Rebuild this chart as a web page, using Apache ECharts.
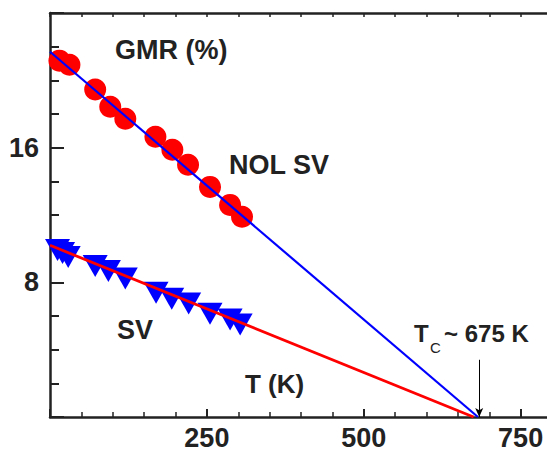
<!DOCTYPE html>
<html>
<head>
<meta charset="utf-8">
<script src="https://cdn.jsdelivr.net/npm/echarts@6/dist/echarts.min.js"></script>
<style>
html,body{margin:0;padding:0;background:#fff;overflow:hidden;}
#c{width:547px;height:452px;overflow:hidden;}
</style>
</head>
<body>
<div id="c"></div>
<script>
// Data
const tempNol = [15, 31, 72, 96, 120, 168, 195, 220, 255, 287, 306];
const gmrNol  = [21.17, 20.93, 19.45, 18.43, 17.72, 16.65, 15.88, 14.98, 13.67, 12.6, 11.9];
const tempSv  = [12, 20, 29, 72, 93, 120, 169, 194, 221, 255, 287, 303];
const gmrSv   = [9.92, 9.74, 9.51, 8.97, 8.67, 8.23, 7.38, 7.02, 6.74, 6.14, 5.79, 5.49];
const fitNolT = [0, 682];
const fitNolG = [21.7, 0];
const fitSvT  = [0, 675];
const fitSvG  = [10.2, 0];
const tcArrowT = [684, 684];
const tcArrowG = [3.4, 0];
const xTickLabels = [250, 500, 750];
const yTickLabels = [8, 16];

const zip = (a, b) => a.map((v, i) => [v, b[i]]);
const FONT = '"Liberation Sans", Arial, Helvetica, sans-serif';
const INK = '#222';

const chart = echarts.init(document.getElementById('c'), null, {renderer: 'svg'});
const axisBase = {
  type: 'value', min: 0, max: 1000, interval: 250,
  axisLine: {show: true, lineStyle: {color: INK, width: 2.5}},
  splitLine: {show: false}
};
chart.setOption({
  animation: false,
  backgroundColor: '#fff',
  grid: {left: 50, top: 13, bottom: 35, width: 627.5, containLabel: false, outerBoundsMode: 'none'},
  xAxis: [
    Object.assign({}, axisBase, {
      position: 'bottom',
      axisTick: {show: true, inside: true, length: 8, lineStyle: {color: INK, width: 2}},
      minorTick: {show: true, splitNumber: 5, length: 5, lineStyle: {color: INK, width: 1.5}},
      axisLabel: {
        margin: 7, color: INK, fontSize: 27, fontWeight: 'bold', fontFamily: FONT,
        formatter: v => xTickLabels.includes(v) ? String(v) : ''
      }
    }),
    Object.assign({}, axisBase, {
      position: 'top',
      axisTick: {show: true, inside: true, length: 4, lineStyle: {color: INK, width: 1.5}},
      minorTick: {show: true, splitNumber: 5, length: 4, lineStyle: {color: INK, width: 1.5}},
      axisLabel: {show: false}
    })
  ],
  yAxis: {
    type: 'value', min: 0, max: 24, interval: 8,
    axisLine: {show: true, lineStyle: {color: INK, width: 2.5}},
    splitLine: {show: false},
    axisTick: {show: true, inside: true, length: 14, lineStyle: {color: INK, width: 2}},
    minorTick: {show: true, splitNumber: 4, length: 9, lineStyle: {color: INK, width: 2}},
    axisLabel: {
      margin: 11, color: INK, fontSize: 27, fontWeight: 'bold', fontFamily: FONT,
      formatter: v => yTickLabels.includes(v) ? String(v) : ''
    }
  },
  series: [
    {
      type: 'scatter', name: 'NOL SV', data: zip(tempNol, gmrNol),
      symbol: 'circle', symbolSize: 22,
      itemStyle: {color: '#ff0000', opacity: 1}, z: 2
    },
    {
      type: 'scatter', name: 'SV', data: zip(tempSv, gmrSv),
      symbol: 'triangle', symbolRotate: 180, symbolSize: [25, 22],
      itemStyle: {color: '#0000ff', opacity: 1}, z: 2
    },
    {
      type: 'line', name: 'fit NOL', data: zip(fitNolT, fitNolG),
      showSymbol: false, symbol: 'none',
      lineStyle: {color: '#0000ff', width: 2.2}, z: 3
    },
    {
      type: 'line', name: 'fit SV', data: zip(fitSvT, fitSvG),
      showSymbol: false, symbol: 'none',
      lineStyle: {color: '#ff0000', width: 2.8}, z: 3
    },
    {
      type: 'line', name: 'Tc arrow', data: zip(tcArrowT, tcArrowG),
      showSymbol: false, symbol: 'none',
      lineStyle: {width: 0, opacity: 0},
      markLine: {
        silent: true, animation: false,
        symbol: ['none', 'arrow'], symbolSize: [6, 9],
        label: {show: false},
        lineStyle: {color: '#000', width: 1, type: 'solid'},
        data: [[{coord: zip(tcArrowT, tcArrowG)[0]}, {coord: zip(tcArrowT, tcArrowG)[1]}]]
      },
      z: 4
    }
  ],
  graphic: [
    {type: 'text', x: 115, y: 49.5, style: {text: 'GMR (%)', font: 'bold 27px ' + FONT, fill: INK, textAlign: 'left', textVerticalAlign: 'middle', align: 'left', verticalAlign: 'middle'}},
    {type: 'text', x: 229, y: 165, style: {text: 'NOL SV', font: 'bold 27px ' + FONT, fill: INK, textAlign: 'left', textVerticalAlign: 'middle', align: 'left', verticalAlign: 'middle'}},
    {type: 'text', x: 117, y: 329.5, style: {text: 'SV', font: 'bold 27px ' + FONT, fill: INK, textAlign: 'left', textVerticalAlign: 'middle', align: 'left', verticalAlign: 'middle'}},
    {type: 'text', x: 245, y: 384, style: {text: 'T (K)', font: 'bold 26px ' + FONT, fill: INK, textAlign: 'left', textVerticalAlign: 'middle', align: 'left', verticalAlign: 'middle'}},
    {type: 'text', x: 414, y: 333.5, style: {text: 'T', font: 'bold 24px ' + FONT, fill: INK, textAlign: 'left', textVerticalAlign: 'middle', align: 'left', verticalAlign: 'middle'}},
    {type: 'text', x: 430, y: 347, style: {text: 'C', font: '15px ' + FONT, fill: INK, textAlign: 'left', textVerticalAlign: 'middle', align: 'left', verticalAlign: 'middle'}},
    {type: 'text', x: 444, y: 333.5, style: {text: '~ 675 K', font: 'bold 24px ' + FONT, fill: INK, textAlign: 'left', textVerticalAlign: 'middle', align: 'left', verticalAlign: 'middle'}}
  ]
});
</script>
</body>
</html>
